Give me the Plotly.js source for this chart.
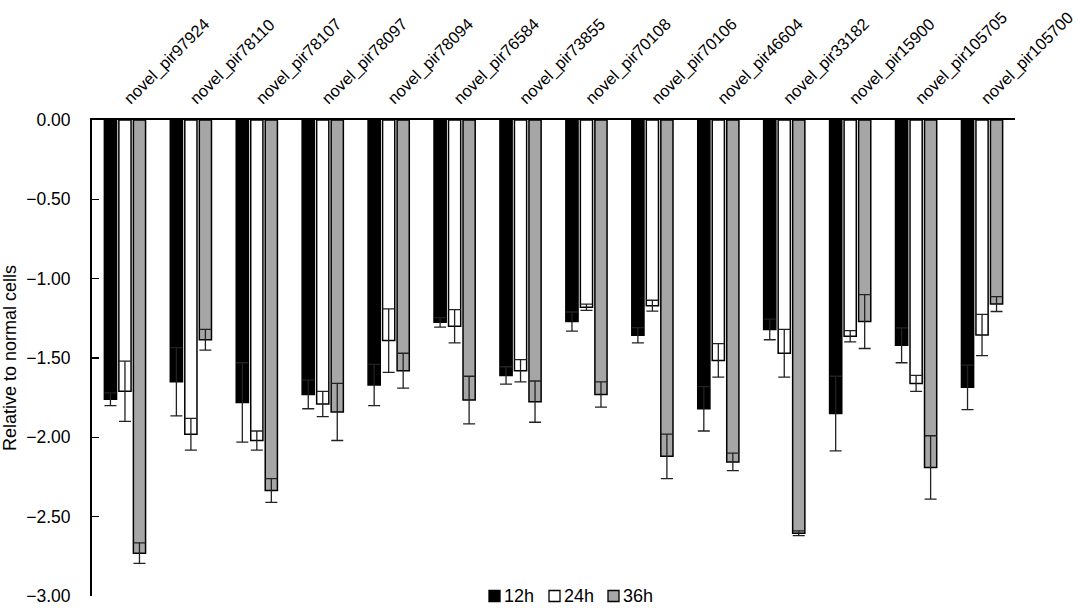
<!DOCTYPE html>
<html>
<head>
<meta charset="utf-8">
<script src="https://cdn.plot.ly/plotly-3.0.1.min.js"></script>
<style>html,body{margin:0;padding:0;background:#fff;}#chart{width:1080px;height:608px;}</style>
</head>
<body>
<div id="chart"></div>
<script>
const categories = ["novel_pir97924","novel_pir78110","novel_pir78107","novel_pir78097","novel_pir78094","novel_pir76584","novel_pir73855","novel_pir70108","novel_pir70106","novel_pir46604","novel_pir33182","novel_pir15900","novel_pir105705","novel_pir105700"];
const seriesNames = ["12h","24h","36h"];
const values12h = [-1.76,-1.65,-1.78,-1.73,-1.67,-1.275,-1.61,-1.27,-1.357,-1.82,-1.32,-1.85,-1.42,-1.685];
const errors12h = [0.04,0.215,0.25,0.09,0.13,0.03,0.055,0.06,0.048,0.14,0.065,0.235,0.11,0.14];
const values24h = [-1.71,-1.98,-2.02,-1.79,-1.39,-1.30,-1.58,-1.18,-1.17,-1.515,-1.47,-1.363,-1.66,-1.355];
const errors24h = [0.19,0.10,0.06,0.08,0.20,0.105,0.07,0.02,0.034,0.105,0.15,0.035,0.05,0.13];
const values36h = [-2.73,-1.385,-2.335,-1.84,-1.58,-1.765,-1.775,-1.73,-2.12,-2.155,-2.605,-1.27,-2.19,-1.16];
const errors36h = [0.065,0.065,0.075,0.18,0.11,0.15,0.13,0.08,0.14,0.055,0.015,0.17,0.20,0.047];
const yTickVals = [0,-0.5,-1,-1.5,-2,-2.5,-3];

const fills = ["#000000","#ffffff","#a6a6a6"];
const vals = [values12h, values24h, values36h];
const errs = [errors12h, errors24h, errors36h];

const traces = seriesNames.map((n, i) => ({
  type: "bar",
  name: n,
  x: categories,
  y: vals[i],
  showlegend: false,
  marker: {color: fills[i], line: {color: "#000000", width: 1.5}},
  error_y: {type: "data", array: errs[i], visible: true, color: "#222222", thickness: 1.3, width: 6}
}));

const FAM = "Liberation Sans, Arial, sans-serif";
const font = {family: FAM, size: 18, color: "#000"};

// legend drawn as shapes + text (plot area: x 92..1015, y 120..596)
const PL = 92, PW = 923, PB = 596, PH = 476;
const px = v => (v - PL) / PW;
const py = v => (PB - v) / PH;
const legendBoxX = [489, 549, 608];
const shapes = [];
const annotations = [];
seriesNames.forEach((n, i) => {
  const x0 = legendBoxX[i];
  shapes.push({type: "rect", xref: "paper", yref: "paper",
    x0: px(x0), x1: px(x0 + 11), y0: py(601.5), y1: py(590.5),
    fillcolor: fills[i], line: {color: "#000", width: 1.3}});
  annotations.push({xref: "paper", yref: "paper", x: px(x0 + 13), y: py(596),
    xanchor: "left", yanchor: "middle", text: n, showarrow: false,
    font: {family: FAM, size: 18, color: "#000"}});
});

const layout = {
  width: 1080, height: 608,
  margin: {l: PL, r: 1080 - PL - PW, t: 120, b: 608 - PB},
  paper_bgcolor: "#fff", plot_bgcolor: "#fff",
  font: font,
  barmode: "group",
  bargap: 0.34,
  bargroupgap: 0.16,
  showlegend: false,
  shapes: shapes,
  annotations: annotations,
  xaxis: {
    side: "top", type: "category", tickangle: -45,
    showline: true, linecolor: "#000", linewidth: 2,
    ticks: "", showgrid: false, zeroline: false,
    ticklabelstandoff: 4,
    tickfont: {family: FAM, size: 16.5, color: "#000"}
  },
  yaxis: {
    range: [-3, 0], tickvals: yTickVals, tickformat: ".2f",
    showline: true, linecolor: "#000", linewidth: 2,
    ticks: "inside", ticklen: 7, tickwidth: 1.5, tickcolor: "#000",
    showgrid: false, zeroline: false,
    ticklabelstandoff: 16,
    tickfont: {family: FAM, size: 17.5, color: "#000"},
    title: {text: "Relative to normal cells", font: {family: FAM, size: 18, color: "#000"}, standoff: 12}
  }
};

Plotly.newPlot("chart", traces, layout, {displayModeBar: false, staticPlot: true});
</script>
</body>
</html>
